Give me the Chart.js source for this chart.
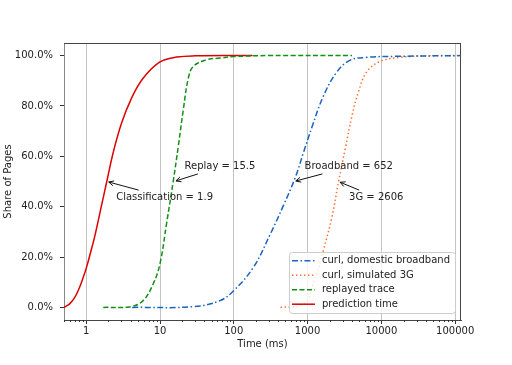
<!DOCTYPE html>
<html>
<head>
<meta charset="utf-8">
<script src="https://cdn.jsdelivr.net/npm/chart.js@4.4.1/dist/chart.umd.min.js"></script>
<style>
  html, body { margin: 0; padding: 0; background: #fff; }
</style>
</head>
<body>
<canvas id="chart" width="512" height="365"></canvas>
<script>
const FONT = 'DejaVu Sans';

// values: x is time in ms, y is share of pages in %
const broadbandX = [4.2, 28, 65, 100, 185, 311, 471, 679, 880, 1143, 1643, 2495, 3785, 6400, 15000, 120000];
const broadbandY = [0, 0.3, 2.7, 6.7, 16, 29, 40.5, 51.5, 61.5, 71.5, 84, 93.5, 98.2, 99.3, 99.7, 100];

const simulated3gX = [430, 880, 1200, 1640, 2140, 2630, 3240, 3990, 4900, 6400, 9700, 18000, 40000, 120000];
const simulated3gY = [0, 1.4, 9.4, 22.8, 36, 50, 63, 76, 85.7, 93.7, 97.7, 99.3, 99.9, 100];

const replayX = [1.7, 4, 5.9, 8.1, 10, 12.3, 15.1, 17.7, 20.7, 24.2, 28.3, 43, 65, 100, 300, 4000];
const replayY = [0, 0.3, 2.7, 9.4, 17.4, 33.5, 50, 64, 78.5, 91, 95.7, 98.4, 99, 99.6, 100, 100];

const predictionX = [0.5, 0.6, 0.7, 0.8, 0.9, 1.0, 1.15, 1.3, 1.6, 1.9, 2.3, 3.0, 4.1, 5.9, 10, 17, 30, 180];
const predictionY = [0, 1.5, 4, 7.5, 11.5, 15.5, 22, 28, 40, 50, 61, 73, 83, 91, 97.5, 99.4, 99.9, 100];

const seriesLabels = ['curl, domestic broadband', 'curl, simulated 3G', 'replayed trace', 'prediction time'];

const yTicks = [0, 20, 40, 60, 80, 100];
const xMajorTicks = [1, 10, 100, 1000, 10000, 100000];

// median annotations: text, value pointed at (at 50%), where the text sits
const noteLabels = ['Classification = 1.9', 'Replay = 15.5', 'Broadband = 652', '3G = 2606'];
const noteValues = [1.9, 15.5, 652, 2606];
const noteTextX = [2.55, 21.5, 910, 3650];
const noteTextY = [43.8, 55.8, 55.8, 43.8];

// line looks, in legend order
const lineColors = ['#1a63c0', '#ff6a2a', '#139013', '#dd0000'];
const lineDashes = [[6, 2.5, 1.5, 2.5], [1.4, 2.6], [5, 2.5], []];

// minor log ticks 2..9 in every decade
const xTickValues = [];
for (let e = -1; e <= 5; e++) {
  for (let m = 1; m <= 9; m++) {
    const v = e < 0 ? m / 10 : m * Math.pow(10, e);
    if (v >= 0.5 && v <= 120000) xTickValues.push(m === 1 ? xMajorTicks[e] : v);
  }
}

function pts(xs, ys) {
  return xs.map((v, i) => ({ x: v, y: ys[i] }));
}

const seriesX = [broadbandX, simulated3gX, replayX, predictionX];
const seriesY = [broadbandY, simulated3gY, replayY, predictionY];

const datasets = seriesLabels.map((label, i) => ({
  label: label,
  data: pts(seriesX[i], seriesY[i]),
  borderColor: lineColors[i],
  backgroundColor: lineColors[i],
  borderDash: lineDashes[i],
  borderWidth: 1.5,
  pointRadius: 0,
  fill: false,
  tension: 0.4
}));

const isMajor = v => xMajorTicks.includes(v);

const extras = {
  id: 'extras',
  afterDraw(chart) {
    const { ctx, chartArea: a, scales: { x, y } } = chart;
    ctx.save();

    // top and right spines
    ctx.strokeStyle = '#444';
    ctx.lineWidth = 1;
    ctx.setLineDash([]);
    ctx.beginPath();
    ctx.moveTo(a.left, Math.round(a.top) + 0.5);
    ctx.lineTo(a.right, Math.round(a.top) + 0.5);
    ctx.moveTo(Math.round(a.right) - 0.5, a.top);
    ctx.lineTo(Math.round(a.right) - 0.5, a.bottom);
    ctx.stroke();

    // minor ticks
    ctx.strokeStyle = '#333';
    ctx.beginPath();
    x.ticks.forEach(t => {
      if (isMajor(t.value)) return;
      const px = Math.round(x.getPixelForValue(t.value)) + 0.5;
      ctx.moveTo(px, a.bottom);
      ctx.lineTo(px, a.bottom + 2);
    });
    ctx.stroke();

    // annotations with arrows
    ctx.font = '10px "' + FONT + '"';
    ctx.textBaseline = 'middle';
    ctx.textAlign = 'left';
    noteLabels.forEach((txt, i) => {
      const tipX = x.getPixelForValue(noteValues[i]);
      const tipY = y.getPixelForValue(50);
      const tx = x.getPixelForValue(noteTextX[i]);
      const ty = y.getPixelForValue(noteTextY[i]);
      const w = ctx.measureText(txt).width;
      ctx.fillStyle = '#222';
      ctx.fillText(txt, tx, ty);

      const cx = tx + w / 2, cy = ty;
      let dx = tipX - cx, dy = tipY - cy;
      const hw = w / 2 + 2, hh = 7;
      const t = Math.min(hw / Math.abs(dx || 1e-6), hh / Math.abs(dy || 1e-6));
      const sx = cx + dx * t, sy = cy + dy * t;
      const len = Math.hypot(tipX - sx, tipY - sy);
      const ux = (tipX - sx) / len, uy = (tipY - sy) / len;
      const ex = tipX - ux * 2, ey = tipY - uy * 2;
      ctx.strokeStyle = '#111';
      ctx.lineWidth = 1;
      ctx.beginPath();
      ctx.moveTo(sx, sy);
      ctx.lineTo(ex, ey);
      ctx.moveTo(ex - ux * 5 - uy * 2.5, ey - uy * 5 + ux * 2.5);
      ctx.lineTo(ex, ey);
      ctx.lineTo(ex - ux * 5 + uy * 2.5, ey - uy * 5 - ux * 2.5);
      ctx.stroke();
    });

    // legend box in the lower right corner
    const textW = Math.max(...seriesLabels.map(l => ctx.measureText(l).width));
    const bw = 3 + 23 + 7 + textW + 5;
    const bh = 61;
    const bx = a.right - 6 - bw;
    const by = a.bottom - 7 - bh;
    ctx.beginPath();
    ctx.roundRect(bx + 0.5, by + 0.5, bw, bh, 3);
    ctx.fillStyle = 'rgba(255,255,255,0.8)';
    ctx.fill();
    ctx.strokeStyle = '#cccccc';
    ctx.stroke();
    seriesLabels.forEach((label, i) => {
      const ry = by + 8.7 + i * 14.5;
      ctx.strokeStyle = lineColors[i];
      ctx.lineWidth = 1.5;
      ctx.setLineDash(lineDashes[i]);
      ctx.beginPath();
      ctx.moveTo(bx + 3, ry);
      ctx.lineTo(bx + 26, ry);
      ctx.stroke();
      ctx.setLineDash([]);
      ctx.fillStyle = '#222';
      ctx.fillText(label, bx + 33, ry);
    });
    ctx.restore();
  }
};

new Chart(document.getElementById('chart'), {
  type: 'line',
  data: { datasets: datasets },
  options: {
    responsive: false,
    animation: false,
    layout: { padding: { top: 43, right: 51, left: 0, bottom: 0 } },
    plugins: { legend: { display: false }, tooltip: { enabled: false } },
    scales: {
      x: {
        type: 'logarithmic',
        min: 0.5,
        max: 120000,
        afterBuildTicks: s => { s.ticks = xTickValues.map(v => ({ value: v })); },
        afterFit: s => { s.height = 45; },
        ticks: {
          autoSkip: false,
          maxRotation: 0,
          padding: 1,
          color: '#222',
          font: { family: FONT, size: 10 },
          callback: v => isMajor(v) ? String(v) : ''
        },
        grid: {
          color: c => (c.tick && isMajor(c.tick.value)) ? '#c4c4c4' : 'rgba(0,0,0,0)',
          tickColor: c => (c.tick && isMajor(c.tick.value)) ? '#333' : 'rgba(0,0,0,0)',
          tickLength: 4,
          lineWidth: 1
        },
        border: { color: '#444' },
        title: {
          display: true,
          text: 'Time (ms)',
          color: '#222',
          font: { family: FONT, size: 10 },
          padding: { top: 0, bottom: 14.7 }
        }
      },
      y: {
        min: -5,
        max: 105,
        afterBuildTicks: s => { s.ticks = yTicks.map(v => ({ value: v })); },
        afterFit: s => { s.width = 64; },
        ticks: {
          padding: 7,
          color: '#222',
          font: { family: FONT, size: 10 },
          callback: v => v.toFixed(1) + '%'
        },
        grid: { drawOnChartArea: false, tickLength: 4, tickColor: '#333' },
        border: { color: '#888' },
        title: {
          display: true,
          text: 'Share of Pages',
          color: '#222',
          font: { family: FONT, size: 10 },
          padding: { top: 2.3, bottom: 0 }
        }
      }
    }
  },
  plugins: [extras]
});
</script>
</body>
</html>
